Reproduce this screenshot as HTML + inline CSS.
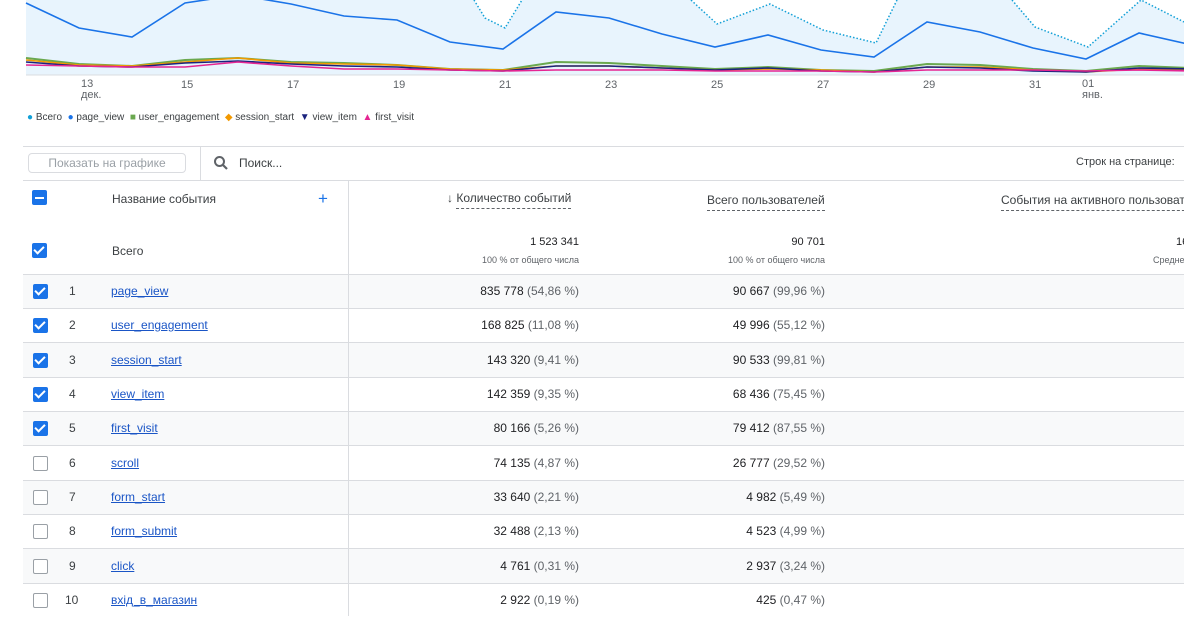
<!DOCTYPE html>
<html><head><meta charset="utf-8"><style>
*{margin:0;padding:0;box-sizing:border-box}
body{width:1184px;height:635px;overflow:hidden;background:#fff;font-family:"Liberation Sans",sans-serif;color:#3c4043;position:relative}
.a{position:absolute;white-space:nowrap}
.t{font-size:11px;color:#5f6368}
.lg{font-size:10px;color:#3c4043}
.row{position:absolute;left:23px;width:1161px;height:34px;border-bottom:1px solid #dadce0}
.g{background:#f8f9fa}
.cb{position:absolute;left:10px;width:15px;height:15px;border-radius:2px}
.on{background:#1a73e8}
.on:after{content:"";position:absolute;left:4px;top:1px;width:4px;height:8px;border:solid #fff;border-width:0 2px 2px 0;transform:rotate(45deg)}
.off{border:1.5px solid #9aa0a6;background:#fff}
.n{position:absolute;left:46px;font-size:12px;color:#3c4043}
.nm{position:absolute;left:88px;font-size:12px;color:#1a55c6;text-decoration:underline}
.v1{position:absolute;right:605px;font-size:12px;color:#202124}
.v2{position:absolute;right:359px;font-size:12px;color:#202124}
.p{color:#5f6368}
.hd{font-size:12px;color:#3c4043;border-bottom:1px dashed #5f6368;padding-bottom:3px}
</style></head><body>
<svg class="a" style="left:0;top:0" width="1184" height="110">
<polygon fill="#e8f4fd" points="26,0 474,0 485,18 505,28 522,0 691,0 717,24 770,4 823,30 876,43 897,0 1012,0 1035,27 1088,47 1141,0 1184,22 1184,75 26,75"/>
<g fill="none" stroke="#12a0d7" stroke-width="1.5" stroke-dasharray="1.5,2">
<polyline points="474,0 485,18 505,28 522,0"/>
<polyline points="691,0 717,24 770,4 823,30 876,43 897,0"/>
<polyline points="1012,0 1035,27 1088,47 1141,0 1184,22"/>
</g>
<polyline fill="none" stroke="#1a73e8" stroke-width="1.6" points="26,3 79,28 132,37 185,3 238,-5 291,4 344,16 397,20 450,42 503,49 556,12 609,18 662,34 715,47 768,35 821,50 874,57 927,22 980,32 1033,48 1086,59 1139,33 1192,45"/>
<polyline fill="none" stroke="#6aa84f" stroke-width="2" points="26,58 79,64 132,66 185,60 238,58 291,62 344,63 397,65 450,69 503,70 556,62 609,63 662,66 715,69 768,67 821,70 874,71 927,64 980,65 1033,69 1086,71 1139,66 1192,68"/>
<polyline fill="none" stroke="#f29900" stroke-width="1.6" points="26,60 79,65 132,66 185,62 238,58 291,63 344,64 397,65 450,69 503,70 556,66 609,66 662,68 715,70 768,69 821,70 874,72 927,67 980,67 1033,70 1086,72 1139,69 1192,70"/>
<polyline fill="none" stroke="#1a237e" stroke-width="1.6" points="26,62 79,66 132,67 185,63 238,61 291,64 344,66 397,67 450,70 503,71 556,66 609,66 662,68 715,70 768,68 821,71 874,72 927,67 980,68 1033,71 1086,72 1139,68 1192,69"/>
<polyline fill="none" stroke="#e52592" stroke-width="1.6" points="26,65 79,66 132,67 185,67 238,62 291,66 344,69 397,69 450,70 503,71 556,70 609,70 662,70 715,71 768,71 821,71 874,72 927,70 980,70 1033,70 1086,71 1139,70 1192,71"/>
<line x1="26" y1="75" x2="1184" y2="75" stroke="#dadce0"/>
</svg>
<div class="a t" style="left:81px;top:79px;line-height:11px">13<br>дек.</div>
<div class="a t" style="left:181px;top:79px">15</div><div class="a t" style="left:287px;top:79px">17</div>
<div class="a t" style="left:393px;top:79px">19</div><div class="a t" style="left:499px;top:79px">21</div>
<div class="a t" style="left:605px;top:79px">23</div><div class="a t" style="left:711px;top:79px">25</div>
<div class="a t" style="left:817px;top:79px">27</div><div class="a t" style="left:923px;top:79px">29</div>
<div class="a t" style="left:1029px;top:79px">31</div>
<div class="a t" style="left:1082px;top:79px;line-height:11px">01<br>янв.</div>
<div class="a lg" style="left:27px;top:112px"><span style="color:#12a0d7">●</span> Всего &nbsp;<span style="color:#1a73e8">●</span> page_view &nbsp;<span style="color:#6aa84f">■</span> user_engagement &nbsp;<span style="color:#f29900">◆</span> session_start &nbsp;<span style="color:#1a237e">▼</span> view_item &nbsp;<span style="color:#e52592">▲</span> first_visit</div>

<div class="a" style="left:23px;top:146px;width:1161px;border-top:1px solid #dadce0"></div>
<div class="a" style="left:28px;top:153px;width:158px;height:20px;border:1px solid #dadce0;border-radius:4px;font-size:12px;color:#9aa0a6;text-align:center;line-height:18px">Показать на графике</div>
<div class="a" style="left:200px;top:146px;height:34px;border-left:1px solid #dadce0"></div>
<svg class="a" style="left:213px;top:155px" width="16" height="16"><circle cx="6.5" cy="6.5" r="4.5" fill="none" stroke="#5f6368" stroke-width="2"/><line x1="10" y1="10" x2="14" y2="14" stroke="#5f6368" stroke-width="2.2"/></svg>
<div class="a" style="left:239px;top:156px;font-size:12px;color:#3c4043">Поиск...</div>
<div class="a" style="left:1076px;top:156px;font-size:11px;color:#3c4043">Строк на странице:</div>
<div class="a" style="left:23px;top:180px;width:1161px;border-top:1px solid #dadce0"></div>
<div class="a" style="left:348px;top:180px;height:436px;border-left:1px solid #dadce0;z-index:2"></div>
<div class="a" style="left:32px;top:190px;width:15px;height:15px;background:#1a73e8;border-radius:2px"><div style="position:absolute;left:3px;top:6.5px;width:9px;height:2px;background:#fff"></div></div>
<div class="a" style="left:112px;top:192px;font-size:12px">Название события</div>
<div class="a" style="left:318px;top:189px;font-size:17px;color:#1a73e8">+</div>
<div class="a" style="left:447px;top:191px;font-size:12px">↓ <span class="hd">Количество событий</span></div>
<div class="a" style="left:707px;top:191px"><span class="hd">Всего пользователей</span></div>
<div class="a" style="left:1001px;top:191px"><span class="hd">События на активного пользователя</span></div>
<div class="a" style="left:32px;top:243px;width:15px;height:15px;position:absolute" ><div class="cb on" style="left:0;top:0"></div></div>
<div class="a" style="left:112px;top:244px;font-size:12px">Всего</div>
<div class="a" style="right:605px;top:236px;font-size:11px;color:#202124">1 523 341</div>
<div class="a" style="right:605px;top:255px;font-size:9px;color:#5f6368">100 % от общего числа</div>
<div class="a" style="right:359px;top:236px;font-size:11px;color:#202124">90 701</div>
<div class="a" style="right:359px;top:255px;font-size:9px;color:#5f6368">100 % от общего числа</div>
<div class="a" style="left:1176px;top:236px;font-size:11px;color:#202124">16</div>
<div class="a" style="left:1153px;top:255px;font-size:9px;color:#5f6368">Среднее</div>
<div class="a" style="left:23px;top:274px;width:1161px;border-top:1px solid #dadce0"></div>

<div class="row g" style="top:275px"><div class="cb on" style="top:9px"></div><div class="n" style="top:9px">1</div><div class="nm" style="top:9px">page_view</div><div class="v1" style="top:9px">835 778 <span class="p">(54,86 %)</span></div><div class="v2" style="top:9px">90 667 <span class="p">(99,96 %)</span></div></div>
<div class="row" style="top:309px"><div class="cb on" style="top:9px"></div><div class="n" style="top:9px">2</div><div class="nm" style="top:9px">user_engagement</div><div class="v1" style="top:9px">168 825 <span class="p">(11,08 %)</span></div><div class="v2" style="top:9px">49 996 <span class="p">(55,12 %)</span></div></div>
<div class="row g" style="top:343px;height:35px"><div class="cb on" style="top:10px"></div><div class="n" style="top:10px">3</div><div class="nm" style="top:10px">session_start</div><div class="v1" style="top:10px">143 320 <span class="p">(9,41 %)</span></div><div class="v2" style="top:10px">90 533 <span class="p">(99,81 %)</span></div></div>
<div class="row" style="top:378px"><div class="cb on" style="top:9px"></div><div class="n" style="top:9px">4</div><div class="nm" style="top:9px">view_item</div><div class="v1" style="top:9px">142 359 <span class="p">(9,35 %)</span></div><div class="v2" style="top:9px">68 436 <span class="p">(75,45 %)</span></div></div>
<div class="row g" style="top:412px"><div class="cb on" style="top:9px"></div><div class="n" style="top:9px">5</div><div class="nm" style="top:9px">first_visit</div><div class="v1" style="top:9px">80 166 <span class="p">(5,26 %)</span></div><div class="v2" style="top:9px">79 412 <span class="p">(87,55 %)</span></div></div>
<div class="row" style="top:446px;height:35px"><div class="cb off" style="top:10px"></div><div class="n" style="top:10px">6</div><div class="nm" style="top:10px">scroll</div><div class="v1" style="top:10px">74 135 <span class="p">(4,87 %)</span></div><div class="v2" style="top:10px">26 777 <span class="p">(29,52 %)</span></div></div>
<div class="row g" style="top:481px"><div class="cb off" style="top:9px"></div><div class="n" style="top:9px">7</div><div class="nm" style="top:9px">form_start</div><div class="v1" style="top:9px">33 640 <span class="p">(2,21 %)</span></div><div class="v2" style="top:9px">4 982 <span class="p">(5,49 %)</span></div></div>
<div class="row" style="top:515px"><div class="cb off" style="top:9px"></div><div class="n" style="top:9px">8</div><div class="nm" style="top:9px">form_submit</div><div class="v1" style="top:9px">32 488 <span class="p">(2,13 %)</span></div><div class="v2" style="top:9px">4 523 <span class="p">(4,99 %)</span></div></div>
<div class="row g" style="top:549px;height:35px"><div class="cb off" style="top:10px"></div><div class="n" style="top:10px">9</div><div class="nm" style="top:10px">click</div><div class="v1" style="top:10px">4 761 <span class="p">(0,31 %)</span></div><div class="v2" style="top:10px">2 937 <span class="p">(3,24 %)</span></div></div>
<div class="row" style="top:584px;border-bottom:none"><div class="cb off" style="top:9px"></div><div class="n" style="top:9px;left:42px">10</div><div class="nm" style="top:9px">вхід_в_магазин</div><div class="v1" style="top:9px">2 922 <span class="p">(0,19 %)</span></div><div class="v2" style="top:9px">425 <span class="p">(0,47 %)</span></div></div>
</body></html>
